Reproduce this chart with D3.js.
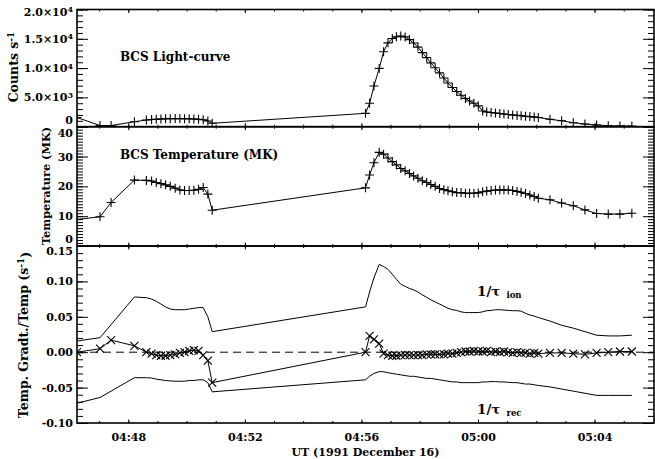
<!DOCTYPE html>
<html>
<head>
<meta charset="utf-8">
<script src="https://cdn.jsdelivr.net/npm/d3@7"></script>
<style>
    html, body { margin: 0; padding: 0; background: #fff; }
    svg { display: block; }
    text { font-family: "DejaVu Serif", serif; font-weight: bold; font-size: 11px; fill: #000; }
</style>
</head>
<body>
<div id="chart"></div>
<script>
// Time in minutes after 04:00 UT, 1991 December 16
const timeRange = [46.24, 66.04];
const timeMin = [
    46.24, 47.03, 47.41, 48.21, 48.62, 48.80, 48.96, 49.12, 49.28, 49.44,
    49.61, 49.77, 49.93, 50.09, 50.25, 50.41, 50.57, 50.73, 50.88,
    56.14, 56.28, 56.43, 56.61, 56.76, 56.91, 57.06, 57.20, 57.35, 57.50,
    57.65, 57.79, 57.94, 58.09, 58.24, 58.38, 58.53, 58.68, 58.83, 58.97,
    59.12, 59.27, 59.42, 59.57, 59.71, 59.86, 60.01, 60.16, 60.30, 60.45,
    60.60, 60.75, 60.89, 61.04, 61.19, 61.34, 61.48, 61.63, 61.78, 61.93,
    62.07, 62.47, 62.87, 63.27, 63.67, 64.07, 64.47, 64.87, 65.28
];

// BCS light-curve (counts s^-1)
const counts = [
    1570, 200, 200, 850, 1140, 1230, 1280, 1310, 1350, 1360,
    1380, 1380, 1360, 1350, 1310, 1260, 1180, 970, 580,
    2280, 3990, 6940, 9950, 12780, 14310, 15060, 15340, 15460, 15320,
    14860, 14280, 13580, 12640, 11790, 10890, 10050, 9180, 8300, 7450,
    6680, 6000, 5370, 4810, 4380, 3990, 3560, 2680, 2500, 2420,
    2330, 2250, 2160, 2080, 1990, 1930, 1860, 1790, 1720, 1650,
    1580, 1260, 1020, 680, 460, 290, 170, 120, 120
];

// BCS temperature (MK)
const tempMK = [
    8.9, 9.8, 14.6, 22.1, 22.0, 21.8, 21.3, 20.9, 20.5, 20.0,
    19.4, 18.8, 18.6, 18.6, 18.7, 19.0, 19.6, 17.4, 12.0,
    19.5, 23.8, 27.9, 31.4, 30.8, 29.5, 28.3, 27.2, 26.0, 25.2,
    24.3, 23.5, 22.7, 21.9, 21.3, 20.6, 20.0, 19.3, 18.9, 18.5,
    18.2, 17.9, 17.9, 17.7, 17.7, 17.7, 17.8, 18.2, 18.4, 18.6,
    18.8, 18.8, 18.8, 18.8, 18.6, 18.3, 18.0, 17.6, 17.1, 16.6,
    16.0, 15.5, 14.4, 13.5, 12.1, 10.9, 10.7, 10.7, 11.0
];

// Temperature gradient / temperature (s^-1)
const gradT = [
    0.000, 0.005, 0.017, 0.009, 0.000, -0.002, -0.004, -0.005, -0.005, -0.004,
    -0.003, -0.001, 0.000, 0.002, 0.003, 0.002, -0.004, -0.012, -0.043,
    0.000, 0.023, 0.018, 0.012, -0.002, -0.004, -0.005, -0.005, -0.004, -0.004,
    -0.004, -0.004, -0.004, -0.004, -0.003, -0.003, -0.003, -0.003, -0.003, -0.002,
    -0.002, -0.001, 0.000, 0.001, 0.001, 0.002, 0.001, 0.001, 0.002, 0.000,
    0.001, 0.000, 0.001, 0.000, -0.001, 0.000, -0.001, -0.001, -0.002, -0.001,
    -0.002, -0.001, -0.001, -0.002, -0.003, -0.001, 0.000, 0.001, 0.001
];

// 1/tau ion
const rateIon = [
    0.0158, 0.0205, 0.039, 0.078, 0.077, 0.075, 0.072, 0.068, 0.064, 0.061,
    0.060, 0.060, 0.060, 0.061, 0.062, 0.063, 0.063, 0.050, 0.029,
    0.064, 0.085, 0.105, 0.124, 0.121, 0.117, 0.110, 0.103, 0.096, 0.093,
    0.090, 0.088, 0.085, 0.081, 0.0775, 0.074, 0.071, 0.068, 0.065, 0.062,
    0.060, 0.059, 0.057, 0.056, 0.056, 0.056, 0.056, 0.057, 0.0586, 0.059,
    0.060, 0.060, 0.0595, 0.059, 0.0586, 0.0586, 0.058, 0.055, 0.0525, 0.051,
    0.049, 0.044, 0.038, 0.034, 0.029, 0.024, 0.023, 0.023, 0.024
];

// 1/tau rec (plotted negative)
const rateRec = [
    -0.072, -0.064, -0.055, -0.036, -0.036, -0.0365, -0.038, -0.039, -0.040, -0.0405,
    -0.041, -0.041, -0.041, -0.040, -0.040, -0.039, -0.039, -0.043, -0.056,
    -0.039, -0.034, -0.030, -0.0275, -0.0275, -0.029, -0.030, -0.031, -0.032, -0.033,
    -0.034, -0.034, -0.035, -0.036, -0.037, -0.037, -0.038, -0.039, -0.040, -0.041,
    -0.042, -0.042, -0.043, -0.043, -0.043, -0.043, -0.043, -0.042, -0.042, -0.0415,
    -0.0415, -0.042, -0.042, -0.0425, -0.043, -0.043, -0.044, -0.045, -0.045, -0.046,
    -0.047, -0.049, -0.052, -0.055, -0.058, -0.061, -0.061, -0.061, -0.061
];

const xTickVals = [48, 52, 56, 60, 64];
const xTickLabels = ['04:48', '04:52', '04:56', '05:00', '05:04'];

const countRange = [0, 20000];
const countTicks = [0, 5000, 10000, 15000, 20000];
const countTickLabels = ['0', '5.0×10^3', '1.0×10^4', '1.5×10^4', '2.0×10^4'];

const tempRange = [0, 40];
const tempTicks = [0, 10, 20, 30, 40];
const tempTickLabels = ['0', '10', '20', '30', '40'];

const gradRange = [-0.10, 0.15];
const gradTicks = [-0.10, -0.05, 0.00, 0.05, 0.10, 0.15];
const gradTickLabels = ['-0.10', '-0.05', '0.00', '0.05', '0.10', '0.15'];

document.addEventListener('DOMContentLoaded', () => {
    const width = 655, height = 459;
    const left = 77, right = 654;

    const svg = d3.select('#chart')
        .append('svg')
        .attr('width', width)
        .attr('height', height);

    const x = d3.scaleLinear().domain(timeRange).range([left, right]);
    const xMinor = d3.range(47, 66);

    const plusPath = 'M-4.5,0H4.5M0,-4.5V4.5';
    const crossPath = 'M-4,-4L4,4M-4,4L4,-4';

    // shiftTop/shiftBottom nudge the end labels where two panels meet
    const panels = [
        { id: 'lc', top: 9.5, bottom: 126.7, domain: countRange, majors: countTicks,
          minors: d3.range(0, 20001, 1000), labels: countTickLabels, shiftTop: 2, shiftBottom: -7 },
        { id: 'temp', top: 126.7, bottom: 246, domain: tempRange, majors: tempTicks,
          minors: d3.range(0, 41, 1), labels: tempTickLabels, shiftTop: 6, shiftBottom: -7 },
        { id: 'grad', top: 246, bottom: 423, domain: gradRange, majors: gradTicks,
          minors: d3.range(-10, 16).map(v => v / 100), labels: gradTickLabels, shiftTop: 5, shiftBottom: 0 }
    ];

    panels.forEach(p => {
        p.y = d3.scaleLinear().domain(p.domain).range([p.bottom, p.top]);

        svg.append('clipPath')
            .attr('id', 'clip-' + p.id)
            .append('rect')
            .attr('x', left)
            .attr('y', p.top)
            .attr('width', right - left)
            .attr('height', p.bottom - p.top);

        const ax = svg.append('g').attr('class', 'axes');
        const last = p.majors.length - 1;

        // left: major with labels, then minor
        ax.append('g')
            .attr('transform', `translate(${left},0)`)
            .call(d3.axisLeft(p.y).tickValues(p.majors).tickSize(-11).tickSizeOuter(0)
                .tickPadding(4).tickFormat((d, i) => p.labels[i]))
            .call(g => g.select('.domain').remove())
            .selectAll('.tick text')
            .each(function (d, i) {
                const el = d3.select(this);
                if (i === 0) el.attr('y', p.shiftBottom);
                if (i === last) el.attr('y', p.shiftTop);
                const [base, exp] = el.text().split('^');
                if (!exp) return;
                el.text(null);
                el.append('tspan').text(base);
                el.append('tspan').attr('dy', '-0.45em').style('font-size', '8px').text(exp);
            });

        ax.append('g')
            .attr('transform', `translate(${left},0)`)
            .call(d3.axisLeft(p.y).tickValues(p.minors).tickSize(-6).tickSizeOuter(0).tickFormat(''))
            .call(g => g.select('.domain').remove());

        // right
        ax.append('g')
            .attr('transform', `translate(${right},0)`)
            .call(d3.axisRight(p.y).tickValues(p.majors).tickSize(-11).tickSizeOuter(0).tickFormat(''))
            .call(g => g.select('.domain').remove());
        ax.append('g')
            .attr('transform', `translate(${right},0)`)
            .call(d3.axisRight(p.y).tickValues(p.minors).tickSize(-6).tickSizeOuter(0).tickFormat(''))
            .call(g => g.select('.domain').remove());

        // top
        ax.append('g')
            .attr('transform', `translate(0,${p.top})`)
            .call(d3.axisTop(x).tickValues(xTickVals).tickSize(-3.5).tickSizeOuter(0).tickFormat(''))
            .call(g => g.select('.domain').remove());
        ax.append('g')
            .attr('transform', `translate(0,${p.top})`)
            .call(d3.axisTop(x).tickValues(xMinor).tickSize(-2).tickSizeOuter(0).tickFormat(''))
            .call(g => g.select('.domain').remove());

        // bottom (labels only on the last panel)
        const isLast = p.id === 'grad';
        ax.append('g')
            .attr('transform', `translate(0,${p.bottom})`)
            .call(d3.axisBottom(x).tickValues(xTickVals).tickSize(-3.5).tickSizeOuter(0)
                .tickPadding(10).tickFormat((d, i) => isLast ? xTickLabels[i] : ''))
            .call(g => g.select('.domain').remove());
        ax.append('g')
            .attr('transform', `translate(0,${p.bottom})`)
            .call(d3.axisBottom(x).tickValues(xMinor).tickSize(-2).tickSizeOuter(0).tickFormat(''))
            .call(g => g.select('.domain').remove());

        p.plot = svg.append('g').attr('clip-path', `url(#clip-${p.id})`);
    });

    svg.selectAll('.axes .tick line').attr('stroke-width', 1);

    const [p1, p2, p3] = panels;

    const lineOf = (y, values) => d3.line()
        .x((d, i) => x(timeMin[i]))
        .y(d => y(d))(values);

    const drawMarks = (p, values, shape) => {
        p.plot.selectAll('path.mark')
            .data(values)
            .join('path')
            .attr('class', 'mark')
            .attr('d', shape)
            .attr('transform', (d, i) => `translate(${x(timeMin[i])},${p.y(d)})`)
            .attr('stroke', '#000')
            .attr('stroke-width', 1.1)
            .attr('fill', 'none');
    };

    // Panel 1: light curve
    p1.plot.append('path')
        .attr('d', lineOf(p1.y, counts))
        .attr('fill', 'none')
        .attr('stroke', '#000')
        .attr('stroke-width', 1);
    drawMarks(p1, counts, plusPath);

    // Panel 2: temperature
    p2.plot.append('path')
        .attr('d', lineOf(p2.y, tempMK))
        .attr('fill', 'none')
        .attr('stroke', '#000')
        .attr('stroke-width', 1);
    drawMarks(p2, tempMK, plusPath);

    // Panel 3: rates and gradient
    p3.plot.append('line')
        .attr('x1', left)
        .attr('x2', right)
        .attr('y1', p3.y(0))
        .attr('y2', p3.y(0))
        .attr('stroke', '#000')
        .attr('stroke-width', 1)
        .attr('stroke-dasharray', '8,5');

    [rateIon, rateRec, gradT].forEach(values => {
        p3.plot.append('path')
            .attr('d', lineOf(p3.y, values))
            .attr('fill', 'none')
            .attr('stroke', '#000')
            .attr('stroke-width', 1);
    });
    drawMarks(p3, gradT, crossPath);

    // Frames
    panels.forEach(p => {
        svg.append('rect')
            .attr('x', left)
            .attr('y', p.top)
            .attr('width', right - left)
            .attr('height', p.bottom - p.top)
            .attr('fill', 'none')
            .attr('stroke', '#000')
            .attr('stroke-width', 1.6);
    });

    // Axis titles
    const yTitle = (cx, cy, size, parts) => {
        const t = svg.append('text')
            .attr('transform', `translate(${cx},${cy}) rotate(-90)`)
            .attr('text-anchor', 'middle')
            .style('font-size', size + 'px');
        parts.forEach(([s, sup]) => {
            const ts = t.append('tspan').text(s);
            if (sup === 'up') ts.attr('dy', '-0.45em').style('font-size', '9px');
            if (sup === 'down') ts.attr('dy', '0.45em');
        });
    };
    yTitle(18, 67, 12.5, [['Counts s'], ['-1', 'up']]);
    yTitle(50, 186, 11.3, [['Temperature (MK)']]);
    yTitle(28, 335, 12.5, [['Temp. Gradt./Temp (s'], ['-1', 'up'], [')', 'down']]);

    svg.append('text')
        .attr('x', (left + right) / 2)
        .attr('y', 456)
        .attr('text-anchor', 'middle')
        .text('UT (1991 December 16)');

    // Panel annotations
    svg.append('text').attr('x', 120).attr('y', 61).style('font-size', '12px').text('BCS Light-curve');
    svg.append('text').attr('x', 120).attr('y', 159).style('font-size', '12px').text('BCS Temperature (MK)');

    const rateLabel = (lx, ly, sub) => {
        const t = svg.append('text').attr('x', lx).attr('y', ly).style('font-size', '13.5px');
        t.append('tspan').text('1/τ');
        t.append('tspan').attr('dx', 6).attr('dy', 2).style('font-size', '8.5px').text(sub);
    };
    rateLabel(477, 296, 'ion');
    rateLabel(477, 414, 'rec');
});
</script>
</body>
</html>
